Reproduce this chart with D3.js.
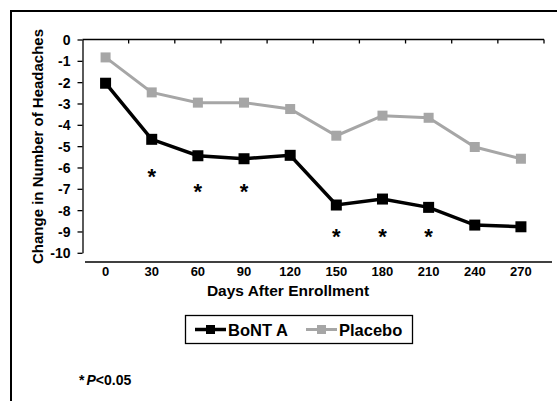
<!DOCTYPE html>
<html>
<head>
<meta charset="utf-8">
<script src="https://cdn.jsdelivr.net/npm/d3@7"></script>
<style>
	body { margin: 0; background: #fff; }
	text { font-family: "Liberation Sans", Arial, sans-serif; font-weight: bold; }
</style>
</head>
<body>
<div id="chart"></div>
<script>
var width = 557;
var height = 401;

// data
var days = ["0", "30", "60", "90", "120", "150", "180", "210", "240", "270"];
var bonta = [-2.05, -4.68, -5.45, -5.59, -5.43, -7.76, -7.48, -7.87, -8.70, -8.78];
var placebo = [-0.84, -2.48, -2.96, -2.96, -3.26, -4.51, -3.57, -3.67, -5.04, -5.59];
var starDays = ["30", "60", "90", "150", "180", "210"];
var starLevels = [-6.3, -7.0, -7.0, -9.1, -9.1, -9.1];
var yTicks = [0, -1, -2, -3, -4, -5, -6, -7, -8, -9, -10];

var svg = d3.select("#chart").append("svg")
	.attr("width", width)
	.attr("height", height);

// outer frame (only top and left show)
svg.append("rect")
	.attr("x", 11).attr("y", 11)
	.attr("width", 600).attr("height", 450)
	.attr("fill", "none")
	.attr("stroke", "#000")
	.attr("stroke-width", 2);

var xScale = d3.scaleBand().domain(days).range([82.5, 544]);
var yScale = d3.scaleLinear().domain([0, -10]).range([39.5, 252.8]);

// y axis
var yAxis = d3.axisLeft(yScale).tickValues(yTicks).tickSize(5).tickSizeOuter(0)
	.tickFormat(function(d) { return String(d); });
var gy = svg.append("g").attr("transform", "translate(82.5,0)").call(yAxis);
gy.select(".domain").attr("stroke", "#000").attr("stroke-width", 1.3);
gy.selectAll(".tick line").attr("stroke-width", 1.3);
gy.selectAll(".tick text")
	.style("font-size", "14px")
	.attr("x", -12).attr("dy", "0.36em");

// top axis at y = 0 with ticks between categories
var gx = svg.append("g");
gx.append("line")
	.attr("x1", xScale.range()[0]).attr("x2", xScale.range()[1])
	.attr("y1", yScale(0)).attr("y2", yScale(0))
	.attr("stroke", "#000").attr("stroke-width", 1.3);
gx.selectAll(".sep")
	.data(days)
	.enter()
	.append("line")
		.attr("x1", function(d) { return xScale(d) + xScale.bandwidth(); })
		.attr("x2", function(d) { return xScale(d) + xScale.bandwidth(); })
		.attr("y1", yScale(0))
		.attr("y2", yScale(0) + 4)
		.attr("stroke", "#000").attr("stroke-width", 1.3);

// bottom rule and category labels
svg.append("line")
	.attr("x1", 85).attr("x2", 552)
	.attr("y1", 262).attr("y2", 262)
	.attr("stroke", "#000").attr("stroke-width", 1.5);

svg.selectAll(".xlab")
	.data(days)
	.enter()
	.append("text")
		.attr("x", function(d) { return xScale(d) + xScale.bandwidth() / 2; })
		.attr("y", 276)
		.attr("text-anchor", "middle")
		.attr("font-size", 13)
		.text(function(d) { return d; });

svg.append("text")
	.attr("x", 288).attr("y", 296)
	.attr("text-anchor", "middle")
	.attr("font-size", 15.5)
	.text("Days After Enrollment");

svg.append("text")
	.attr("transform", "translate(43,146.5) rotate(-90)")
	.attr("text-anchor", "middle")
	.attr("font-size", 15)
	.text("Change in Number of Headaches");

// series
var line = d3.line()
	.x(function(d, i) { return xScale(days[i]) + xScale.bandwidth() / 2; })
	.y(function(d) { return yScale(d); });

var series = [
	{ name: "Placebo", values: placebo, color: "#a6a6a6", width: 3, size: 10 },
	{ name: "BoNTA", values: bonta, color: "#000", width: 3.5, size: 11 }
];

series.forEach(function(s) {
	svg.append("path")
		.attr("d", line(s.values))
		.attr("fill", "none")
		.attr("stroke", s.color)
		.attr("stroke-width", s.width)
		.attr("stroke-linejoin", "miter");
	svg.selectAll(".pt-" + s.name)
		.data(s.values)
		.enter()
		.append("rect")
			.attr("x", function(d, i) { return xScale(days[i]) + xScale.bandwidth() / 2 - s.size / 2; })
			.attr("y", function(d) { return yScale(d) - s.size / 2; })
			.attr("width", s.size)
			.attr("height", s.size)
			.attr("fill", s.color);
});

// significance stars
svg.selectAll(".star")
	.data(starDays)
	.enter()
	.append("text")
		.attr("x", function(d) { return xScale(d) + xScale.bandwidth() / 2; })
		.attr("y", function(d, i) { return yScale(starLevels[i]) + 10; })
		.attr("text-anchor", "middle")
		.attr("font-size", 22)
		.attr("font-weight", "normal")
		.text("*");

// legend
var legend = svg.append("g");
legend.append("rect")
	.attr("x", 185.5).attr("y", 315.5)
	.attr("width", 227).attr("height", 28)
	.attr("fill", "#fff").attr("stroke", "#000").attr("stroke-width", 1.3);

var legendItems = [
	{ name: "BoNT A", color: "#000", x: 195, width: 3.5, size: 9 },
	{ name: "Placebo", color: "#a6a6a6", x: 306, width: 3, size: 9 }
];
legendItems.forEach(function(l) {
	legend.append("line")
		.attr("x1", l.x).attr("x2", l.x + 31)
		.attr("y1", 329.5).attr("y2", 329.5)
		.attr("stroke", l.color).attr("stroke-width", l.width);
	legend.append("rect")
		.attr("x", l.x + 15.5 - l.size / 2).attr("y", 329.5 - l.size / 2)
		.attr("width", l.size).attr("height", l.size)
		.attr("fill", l.color);
	legend.append("text")
		.attr("x", l.x + 33).attr("y", 335.5)
		.attr("font-size", 16.5)
		.text(l.name);
});

// footnote
var note = svg.append("text").attr("x", 79).attr("y", 385).attr("font-size", 14);
note.append("tspan").text("*");
note.append("tspan").attr("font-style", "italic").attr("dx", 2).text("P");
note.append("tspan").text("<0.05");
</script>
</body>
</html>
